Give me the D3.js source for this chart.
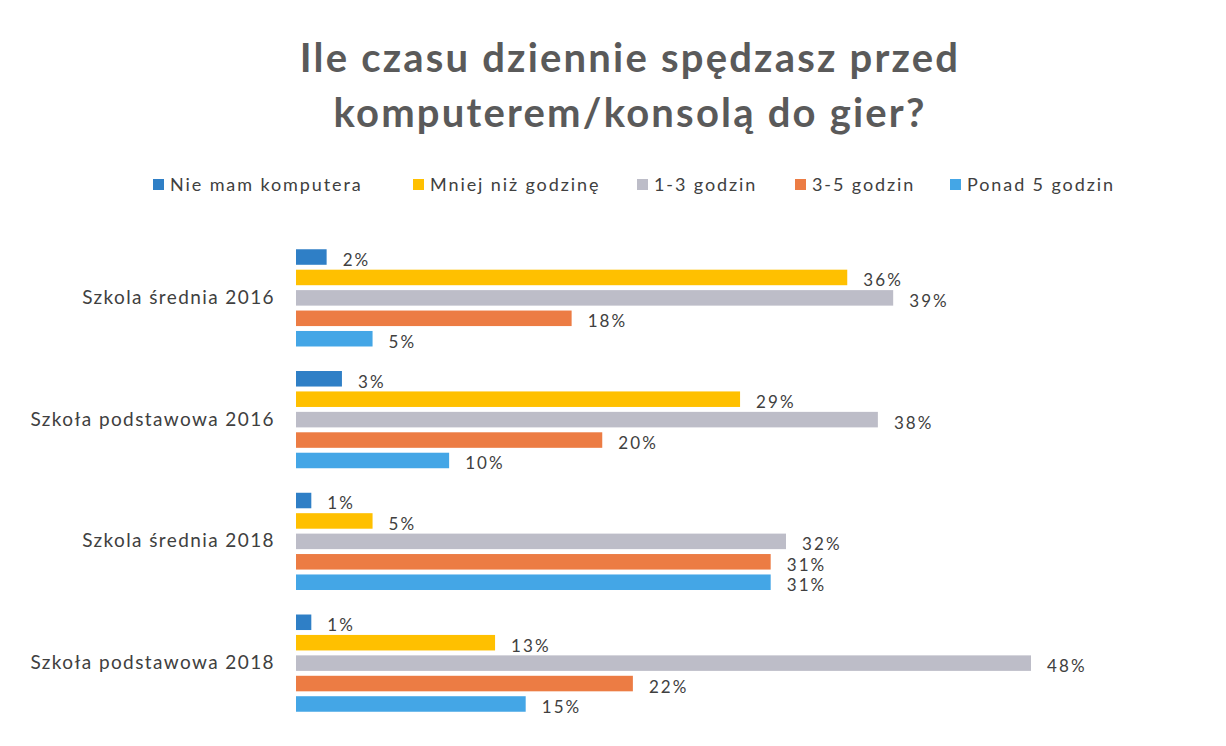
<!DOCTYPE html>
<html lang="pl">
<head>
<meta charset="utf-8">
<script src="https://cdn.jsdelivr.net/npm/d3@7"></script>
<style>
  html, body { margin: 0; padding: 0; background: #ffffff; }
  svg { display: block; font-family: "Lato", "Open Sans", sans-serif; }
</style>
</head>
<body>
<svg id="chart" width="1226" height="746"></svg>
<script>
// Survey results: daily time spent at a computer / game console
const titleLines = ["Ile czasu dziennie spędzasz przed", "komputerem/konsolą do gier?"];
const groups = ["Szkola średnia 2016", "Szkoła podstawowa 2016", "Szkola średnia 2018", "Szkoła podstawowa 2018"];
const seriesNames = ["Nie mam komputera", "Mniej niż godzinę", "1-3 godzin", "3-5 godzin", "Ponad 5 godzin"];
const seriesColors = ["#2f7fc6", "#ffc000", "#bdbdc8", "#ec7c44", "#44a6e6"];
// values in percent, one array per series, ordered like `groups`
const nieMamKomputera = [2, 3, 1, 1];
const mniejNizGodzine = [36, 29, 5, 13];
const jednaDoTrzech = [39, 38, 32, 48];
const trzyDoPieciu = [18, 20, 31, 22];
const ponadPiec = [5, 10, 31, 15];
const seriesValues = [nieMamKomputera, mniejNizGodzine, jednaDoTrzech, trzyDoPieciu, ponadPiec];

const svg = d3.select("#chart");
const textColor = "#404040";

// Title
const title = svg.append("text")
  .attr("x", 629)
  .attr("text-anchor", "middle")
  .attr("fill", "#5a5a5a")
  .attr("font-weight", "bold")
  .attr("font-size", 40)
  .attr("letter-spacing", 2.2);
title.selectAll("tspan").data(titleLines).join("tspan")
  .attr("x", 630)
  .attr("y", (d, i) => 72 + i * 55)
  .text(d => d);

// Legend
const legendX = [153, 413, 637, 795, 950];
const legend = svg.append("g").attr("transform", "translate(0,185)");
const li = legend.selectAll("g").data(seriesNames).join("g")
  .attr("transform", (d, i) => `translate(${legendX[i]},0)`);
li.append("rect").attr("x", 0).attr("y", -6).attr("width", 11).attr("height", 11)
  .attr("fill", (d, i) => seriesColors[i]);
li.append("text").attr("x", 17).attr("y", 0).attr("dy", "0.35em")
  .attr("font-size", 18).attr("letter-spacing", 1.9)
  .attr("fill", textColor).text(d => d);

// Scales
const x = d3.scaleLinear().domain([0, 48]).range([296, 1031]);
const y = d3.scaleBand().domain(groups).range([237, 724]).paddingInner(0).paddingOuter(0);
const yInner = d3.scaleBand().domain(seriesNames).range([0, y.bandwidth()])
  .paddingInner(0.24).paddingOuter(0.6);

// Category axis (labels only)
const yAxis = d3.axisLeft(y).tickSize(0).tickPadding(21);
const axisG = svg.append("g").attr("transform", `translate(${x(0)},0)`).call(yAxis);
axisG.select(".domain").remove();
axisG.selectAll("text").attr("font-size", 19).attr("fill", textColor)
  .attr("letter-spacing", 1.4)
  .attr("font-family", "Lato, 'Open Sans', sans-serif");

// Bars
const rows = groups.map((g, gi) => seriesNames.map((s, si) => ({ group: g, series: s, si, value: seriesValues[si][gi] })));
const groupG = svg.append("g").selectAll("g").data(rows).join("g")
  .attr("transform", (d, i) => `translate(0,${y(groups[i])})`);

groupG.selectAll("rect").data(d => d).join("rect")
  .attr("x", x(0))
  .attr("y", d => yInner(d.series))
  .attr("width", d => x(d.value) - x(0))
  .attr("height", yInner.bandwidth())
  .attr("fill", d => seriesColors[d.si]);

// Value labels just past the end of each bar
groupG.selectAll("text").data(d => d).join("text")
  .attr("x", d => x(d.value) + 16)
  .attr("y", d => yInner(d.series) + yInner.bandwidth() / 2 + 3)
  .attr("dy", "0.35em")
  .attr("font-size", 17)
  .attr("letter-spacing", 2.1)
  .attr("fill", textColor)
  .text(d => d.value + "%");
</script>
</body>
</html>
